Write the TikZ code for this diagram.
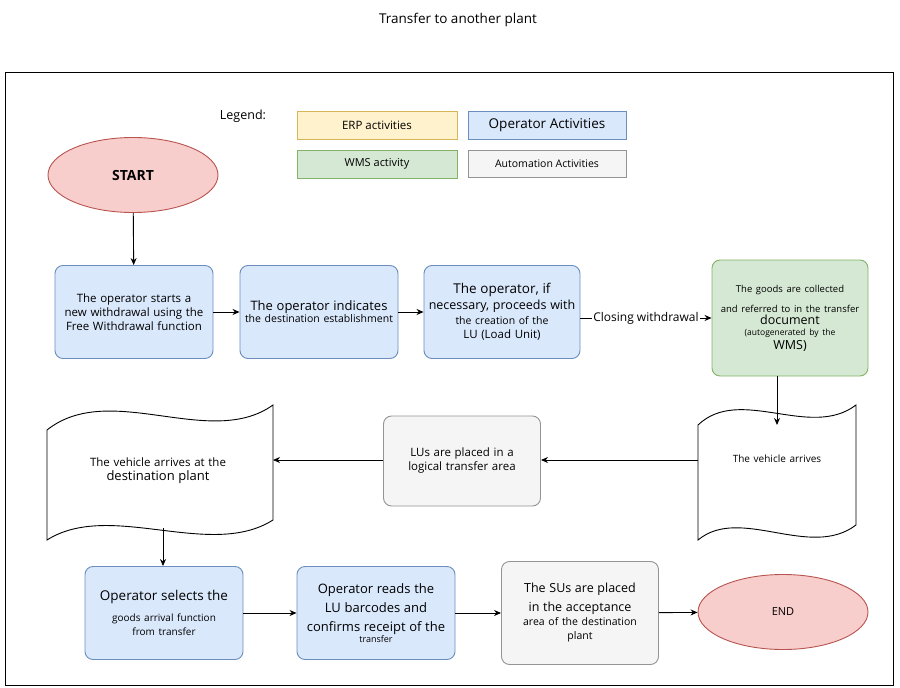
\documentclass[tikz,border=0pt]{standalone}
\usepackage{fontspec}
\setmainfont{Open Sans}
\usetikzlibrary{shapes.geometric,arrows.meta}
\definecolor{opf}{HTML}{DAE8FC}\definecolor{ops}{HTML}{6C8EBF}
\definecolor{erpf}{HTML}{FFF2CC}\definecolor{erps}{HTML}{D6B656}
\definecolor{wmsf}{HTML}{D5E8D4}\definecolor{wmss}{HTML}{82B366}
\definecolor{auf}{HTML}{F5F5F5}\definecolor{aus}{HTML}{666666}
\definecolor{stf}{HTML}{F8CECC}\definecolor{sts}{HTML}{B85450}
\begin{document}
\begin{tikzpicture}[x=1pt,y=-1pt,font=\fontsize{11}{14}\selectfont,
 execute at begin node={\hyphenpenalty=10000\exhyphenpenalty=10000},
 box/.style={draw,rounded corners=8pt,line width=0.9pt,align=center,text width=#1,inner sep=2pt},
 op/.style={box=152pt,fill=opf,draw=ops,minimum width=158pt,minimum height=93pt},
 au/.style={box=150pt,fill=auf,draw=aus!70,minimum width=157pt},
 leg/.style={draw,line width=0.9pt,minimum width=160pt,minimum height=28pt,inner sep=1pt},
 ell/.style={ellipse,draw=sts,fill=stf,line width=0.9pt,minimum width=170pt,minimum height=75pt},
 arr/.style={-{Stealth[length=7pt,width=6pt]},line width=0.9pt}]
\useasboundingbox (0,0) rectangle (900,688);
\node (title) at (458,20) {\fontsize{13.5}{15}\selectfont Transfer to another plant};
\draw[line width=0.8pt] (5,72) rectangle (893,685);
\node (legend) at (243,116) {\fontsize{12.5}{14}\selectfont Legend:};
\node[leg,fill=erpf,draw=erps] (erp) at (377,125) {\fontsize{11.5}{13}\selectfont ERP activities};
\node[leg,fill=opf,draw=ops,minimum width=158pt] (opl) at (547,125) {\fontsize{13.5}{14}\selectfont Operator Activities};
\node[leg,fill=wmsf,draw=wmss] (wms) at (377,164) {\fontsize{11}{13}\selectfont WMS activity};
\node[leg,fill=auf,draw=aus!70,minimum width=158pt,minimum height=27pt] (aul) at (547,164) {\fontsize{10.5}{13}\selectfont Automation Activities};
\node[ell] (start) at (133,175) {\fontsize{14}{16}\selectfont\textbf{START}};
\node[op] (b1) at (134,312) {\fontsize{11.5}{19}\selectfont The operator starts a new withdrawal using the Free Withdrawal function};
\node[op] (b2) at (319,312) {\fontsize{13}{16}\selectfont The operator indicates\\[-2pt]\fontsize{10.5}{15}\selectfont the destination establishment};
\node[op,minimum width=156pt] (b3) at (502,312) {\fontsize{13.5}{17}\selectfont The operator, if\\\fontsize{12.5}{16}\selectfont necessary, proceeds with\\\fontsize{10.5}{15}\selectfont the creation of the\\\fontsize{11.5}{15}\selectfont LU (Load Unit)};
\node[box=152pt,fill=wmsf,draw=wmss,minimum width=156pt,minimum height=116pt] (g) at (790,318) {\fontsize{9.5}{20}\selectfont The goods are collected\\and referred to in the transfer\\[-4pt]\fontsize{12.5}{16}\selectfont document\\\fontsize{8.5}{11}\selectfont (autogenerated by the\\\fontsize{12.5}{16}\selectfont WMS)};
% vehicle arrives doc
\draw[line width=0.9pt,fill=white] (698,425) .. controls (740,385) and (810,440) .. (856,405) -- (856,525) .. controls (810,560) and (740,505) .. (698,540) -- cycle;
\node[align=center,text width=150pt] (d1) at (777,459) {\fontsize{10}{12}\selectfont The vehicle arrives};
\node[au,minimum height=90pt] (a1) at (462,461) {\fontsize{11.5}{19}\selectfont LUs are placed in a logical transfer area};
\draw[line width=0.9pt,fill=white] (47,430) .. controls (110,380) and (210,450) .. (273,405) -- (273,520) .. controls (210,560) and (110,500) .. (47,540) -- cycle;
\node[align=center,text width=210pt] (d2) at (158,471) {\fontsize{11.5}{14}\selectfont The vehicle arrives at the\\\fontsize{13}{18}\selectfont destination plant};
\coordinate (d2b) at (163,528);
\coordinate (d2r) at (273,460);
\coordinate (d1l) at (698,460);
\coordinate (d1t) at (777,425);
\node[op] (c1) at (164,613) {\fontsize{13.5}{16}\selectfont Operator selects the\\\fontsize{10}{21}\selectfont goods arrival function\\from transfer};
\node[op] (c2) at (376,613) {\fontsize{13}{19}\selectfont Operator reads the LU barcodes and confirms receipt of the\\[-3pt]\fontsize{9}{12}\selectfont transfer};
\node[au,minimum height=103pt] (c3) at (580,613) {\fontsize{12.5}{19}\selectfont The SUs are placed\\in the acceptance\\[-3pt]\fontsize{10.5}{17}\selectfont area of the destination\\plant};
\node[ell] (end) at (783,612) {\fontsize{11}{13}\selectfont END};
\draw[arr] (start) -- (b1);
\draw[arr] (b1) -- (b2);
\draw[arr] (b2) -- (b3);
\draw[arr] (b3.east|-g.west) -- node[fill=white,inner sep=1pt]{\fontsize{12}{14}\selectfont Closing withdrawal} (g.west);
\draw[arr] (g.south-|d1t) -- (d1t);
\draw[arr] (d1l) -- (a1.east|-d1l);
\draw[arr] (a1.west|-d2r) -- (d2r);
\draw[arr] (d2b) -- (c1.north-|d2b);
\draw[arr] (c1) -- (c2);
\draw[arr] (c2) -- (c3);
\draw[arr] (c3) -- (end);
\end{tikzpicture}
\end{document}
